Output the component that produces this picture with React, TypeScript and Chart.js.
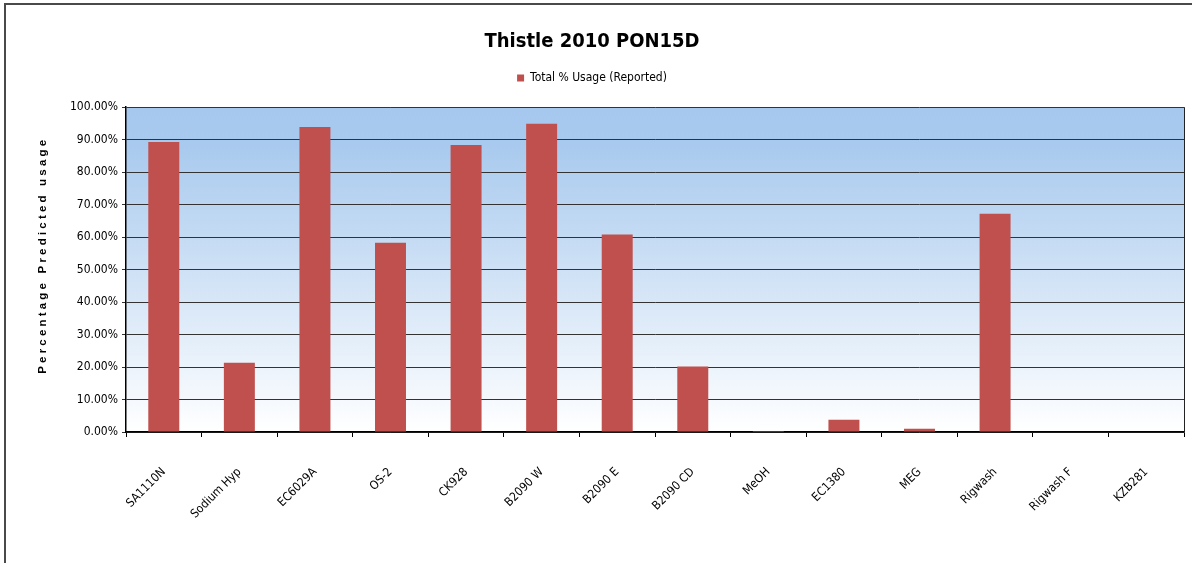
import React, { useEffect, useRef } from "react";
import { Chart, registerables } from "chart.js";

Chart.register(...registerables);

const chartTitle = "Thistle 2010 PON15D";
const seriesName = "Total % Usage (Reported)";
const yAxisTitle = "        P e r c e n t a g e   P r e d i c t e d   u s a g e";

const categories = [
  "SA1110N",
  "Sodium Hyp",
  "EC6029A",
  "OS-2",
  "CK928",
  "B2090 W",
  "B2090 E",
  "B2090 CD",
  "MeOH",
  "EC1380",
  "MEG",
  "Rigwash",
  "Rigwash F",
  "KZB281",
];

const usageReported = [89.3, 21.3, 93.9, 58.3, 88.4, 94.9, 60.8, 20.2, 0.3, 3.8, 1.0, 67.2, 0, 0];

const yMin = 0;
const yMax = 100;
const yStep = 10;

const NARROW = '"Liberation Sans Narrow", "Arial Narrow", "DejaVu Sans Condensed", sans-serif';
const SANS = '"Liberation Sans", Arial, sans-serif';

const framePlugin = {
  id: "frame",
  beforeDraw(chart: any) {
    const { ctx, chartArea } = chart;
    const { left, top, right, bottom } = chartArea;
    ctx.save();
    ctx.fillStyle = "#ffffff";
    ctx.fillRect(0, 0, chart.width, chart.height);
    const g = ctx.createLinearGradient(0, top, 0, bottom);
    g.addColorStop(0, "#A6C8EE");
    g.addColorStop(0.12, "#A9CAEE");
    g.addColorStop(1, "#FFFFFF");
    ctx.fillStyle = g;
    ctx.fillRect(left, top, right - left, bottom - top);
    ctx.restore();
  },
  afterDraw(chart: any) {
    const { ctx, chartArea } = chart;
    const { top, right, bottom } = chartArea;
    ctx.save();
    ctx.strokeStyle = "#222";
    ctx.lineWidth = 1;
    ctx.beginPath();
    ctx.moveTo(right + 0.5, top);
    ctx.lineTo(right + 0.5, bottom);
    ctx.stroke();
    ctx.strokeStyle = "#4a4a4a";
    ctx.lineWidth = 2;
    ctx.beginPath();
    ctx.moveTo(5, chart.height);
    ctx.lineTo(5, 4);
    ctx.lineTo(chart.width, 4);
    ctx.stroke();
    ctx.restore();
  },
};

export default function App() {
  const ref = useRef<HTMLCanvasElement | null>(null);

  useEffect(() => {
    if (!ref.current) return;
    const chart = new Chart(ref.current, {
      type: "bar",
      data: {
        labels: categories,
        datasets: [
          {
            label: seriesName,
            data: usageReported,
            backgroundColor: "#C0504D",
            borderWidth: 0,
            categoryPercentage: 1,
            barPercentage: 0.41,
          },
        ],
      },
      options: {
        responsive: false,
        animation: false,
        layout: { padding: { left: 0, right: 8, top: 0, bottom: 0 } },
        plugins: {
          title: {
            display: true,
            text: chartTitle,
            color: "#000",
            font: { family: NARROW, size: 20, weight: "bold" },
            padding: { top: 30, bottom: 10 },
          },
          subtitle: {
            display: true,
            text: " ",
            weight: 500,
            font: { size: 1 },
            padding: { top: 0, bottom: 12 },
          },
          legend: {
            display: true,
            position: "top",
            labels: {
              color: "#000",
              font: { family: NARROW, size: 12 },
              boxWidth: 7,
              boxHeight: 7,
              padding: 8,
            },
          },
          tooltip: { enabled: false },
        },
        scales: {
          x: {
            grid: {
              offset: true,
              drawOnChartArea: false,
              drawTicks: true,
              tickLength: 5,
              color: "#000",
              lineWidth: 1,
            },
            border: { color: "#000", width: 1.5 },
            ticks: {
              autoSkip: false,
              minRotation: 45,
              maxRotation: 45,
              padding: 28,
              color: "#000",
              font: { family: NARROW, size: 12 },
            },
            afterFit(scale: any) {
              scale.height = 131;
            },
          },
          y: {
            min: yMin,
            max: yMax,
            ticks: {
              stepSize: yStep,
              color: "#000",
              padding: 4,
              font: { family: NARROW, size: 12 },
              callback: (v: any) => Number(v).toFixed(2) + "%",
            },
            grid: {
              color: "#333",
              lineWidth: 1,
              tickLength: 4,
              drawTicks: true,
            },
            border: { color: "#000", width: 1.5 },
            title: {
              display: true,
              text: yAxisTitle,
              color: "#000",
              font: { family: SANS, size: 11.5, weight: "bold" },
              padding: { top: 36, bottom: 0 },
            },
            afterFit(scale: any) {
              scale.width = 126;
            },
          },
        },
      },
      plugins: [framePlugin],
    });
    return () => chart.destroy();
  }, []);

  return (
    <div style={{ position: "absolute", left: 0, top: 0, width: 1192, height: 563 }}>
      <canvas ref={ref} width={1192} height={563} />
    </div>
  );
}
